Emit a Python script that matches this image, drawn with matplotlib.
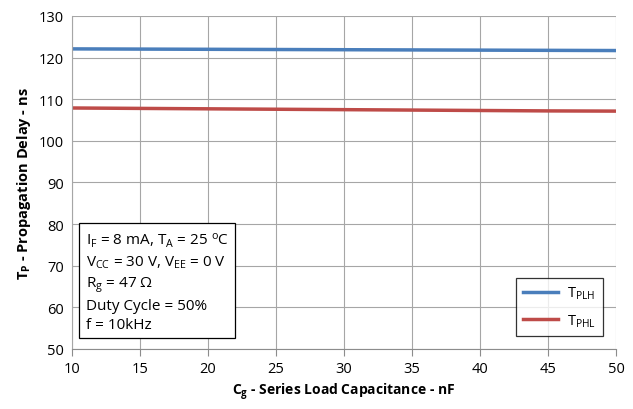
import matplotlib
matplotlib.use('Agg')
import matplotlib.pyplot as plt
import numpy as np

# data
cap_nf = [10, 15, 20, 25, 30, 35, 40, 45, 50]
t_plh = [122.1, 122.05, 122.0, 121.95, 121.9, 121.85, 121.8, 121.75, 121.7]
t_phl = [107.9, 107.8, 107.7, 107.6, 107.5, 107.4, 107.3, 107.2, 107.15]

plt.rcParams['font.family'] = ['Open Sans', 'DejaVu Sans']
plt.rcParams['mathtext.fontset'] = 'custom'
plt.rcParams['mathtext.rm'] = 'Open Sans'
plt.rcParams['mathtext.it'] = 'Open Sans'
plt.rcParams['mathtext.bf'] = 'Open Sans:bold'

fig = plt.figure(figsize=(6.33, 4.10), dpi=100)
ax = fig.add_axes([72 / 633, 60 / 410, 544 / 633, 333 / 410])

ax.plot(cap_nf, t_plh, color='#4a7ebb', lw=2.5, label=r'$\mathregular{T_{PLH}}$')
ax.plot(cap_nf, t_phl, color='#be4b48', lw=2.5, label=r'$\mathregular{T_{PHL}}$')

ax.set_xlim(10, 50)
ax.set_ylim(50, 130)
ax.set_xticks(np.arange(10, 51, 5))
ax.set_yticks(np.arange(50, 131, 10))
ax.grid(True, color='#a6a6a6', lw=0.8)
ax.set_axisbelow(True)
for s in ['top', 'right']:
    ax.spines[s].set_visible(False)
ax.spines['left'].set_color('#a6a6a6')
ax.spines['bottom'].set_color('#8c8c8c')
ax.tick_params(axis='y', length=0, labelsize=10.5, pad=6)
ax.tick_params(axis='x', length=5, color='#8c8c8c', labelsize=10.5, pad=4)

ax.set_xlabel(r'$\mathbf{C_g}$ - Series Load Capacitance - nF', fontsize=10, fontweight='bold', labelpad=3)
ax.set_ylabel(r'$\mathbf{T_P}$ - Propagation Delay - ns', fontsize=10.5, fontweight='bold', labelpad=4)

cond = ('$\\mathregular{I_F}$ = 8 mA, $\\mathregular{T_A}$ = 25 $\\mathregular{^oC}$\n'
        '$\\mathregular{V_{CC}}$ = 30 V, $\\mathregular{V_{EE}}$ = 0 V\n'
        '$\\mathregular{R_g}$ = 47 \u03a9\n'
        'Duty Cycle = 50%\n'
        'f = 10kHz')
ax.text(0.025, 0.05, cond, transform=ax.transAxes, fontsize=11, va='bottom', ha='left',
        linespacing=1.38,
        bbox=dict(boxstyle='square,pad=0.4', fc='white', ec='black', lw=0.9))

leg = ax.legend(loc='lower right', bbox_to_anchor=(0.976, 0.039), fontsize=10.5, frameon=True,
                fancybox=False, edgecolor='black', handlelength=2.4, handletextpad=0.6,
                borderpad=0.5, labelspacing=0.75, borderaxespad=0)
leg.get_frame().set_linewidth(0.9)

fig.savefig('out.png', dpi=100)
